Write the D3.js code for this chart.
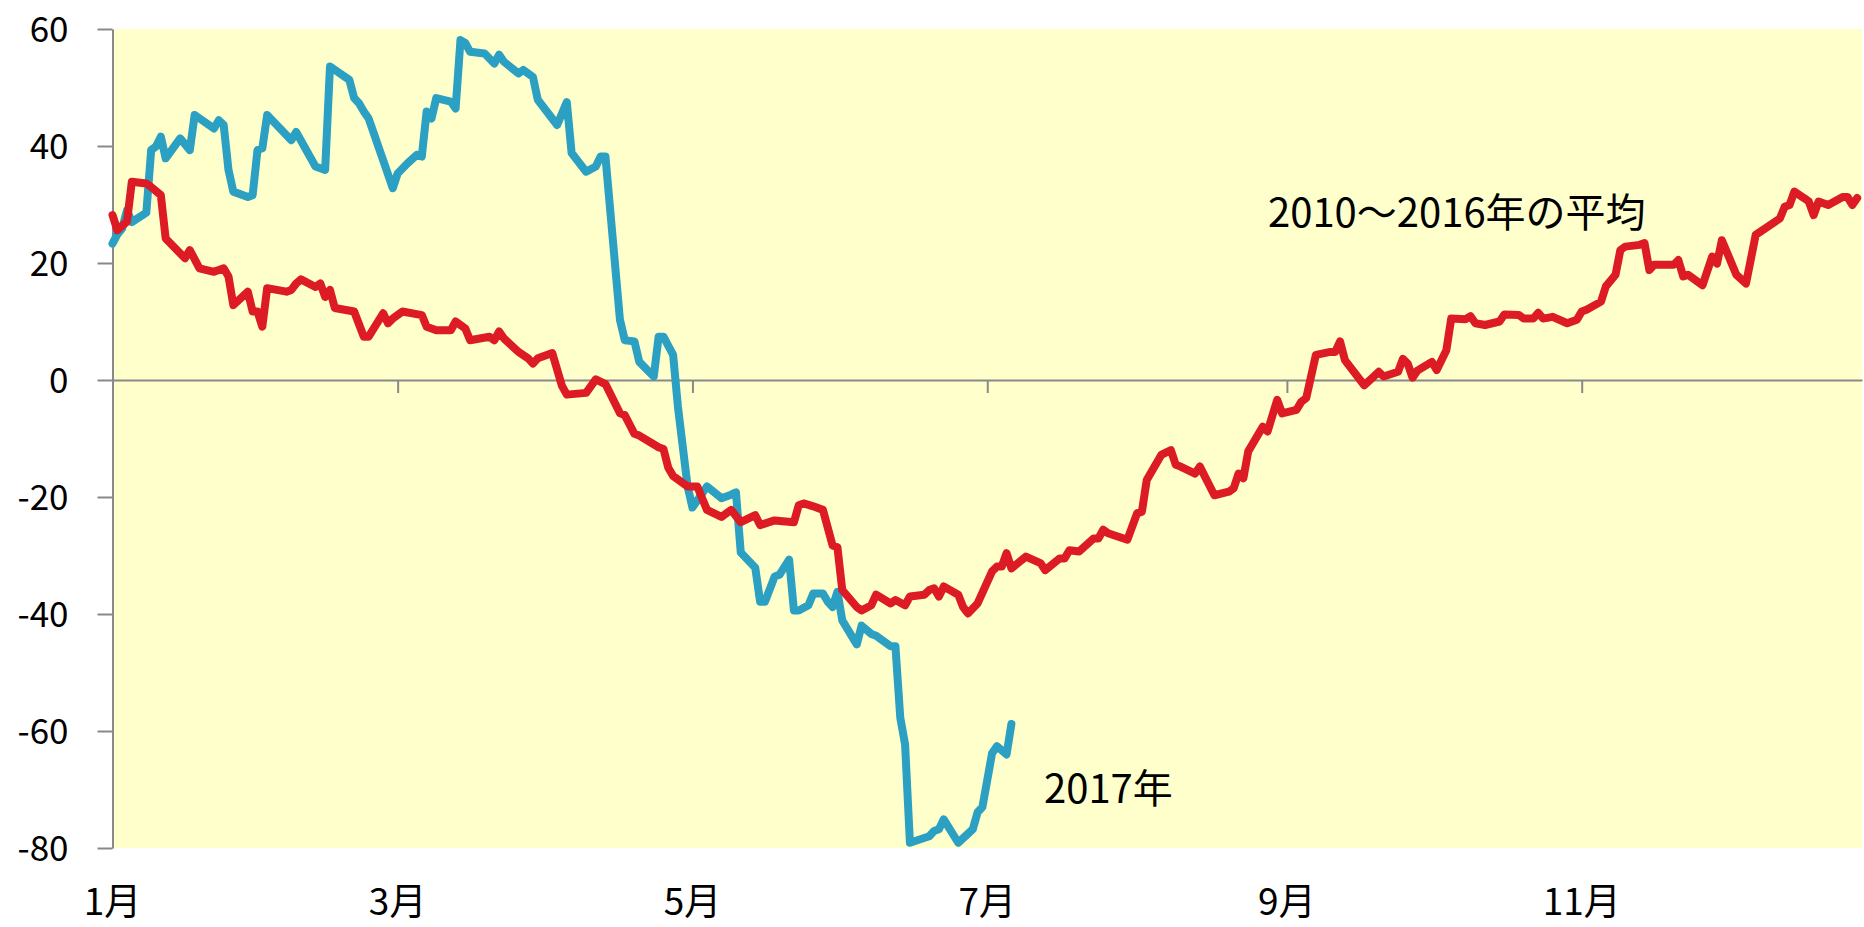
<!DOCTYPE html>
<html>
<head>
<meta charset="utf-8">
<script src="https://cdn.jsdelivr.net/npm/d3@7"></script>
<style>
  body { margin: 0; background: #fff; }
  text { font-family: "Noto Sans CJK JP", "Noto Sans", sans-serif; fill: #000; }
</style>
</head>
<body>
<svg id="chart" width="1864" height="927"></svg>
<script>
// 2010～2016年の平均 (red)
const avgDates = ["1/4","1/5","1/7","1/8","1/11","1/12","1/14","1/15","1/19","1/20","1/22","1/25","1/27","1/28","1/29",
  "2/1","2/2","2/3","2/4","2/5","2/9","2/10","2/11","2/12","2/15","2/16","2/17","2/18","2/19","2/23","2/25","2/26",
  "3/1","3/2","3/3","3/5","3/9","3/10","3/12","3/15","3/16","3/18","3/19","3/23","3/24","3/25","3/26","3/29","3/31",
  "4/1","4/2","4/5","4/7","4/8","4/12","4/14","4/16","4/19","4/20","4/22","4/23","4/27","4/28","4/29","4/30",
  "5/3","5/5","5/7","5/10","5/12","5/14","5/17","5/18","5/21","5/25","5/26","5/27","5/29","5/31",
  "6/2","6/3","6/4","6/7","6/8","6/10","6/11","6/14","6/15","6/17","6/18","6/21","6/22","6/23","6/24","6/25","6/28","6/29","6/30",
  "7/2","7/5","7/6","7/7","7/8","7/9","7/12","7/15","7/16","7/19","7/20","7/21","7/23","7/26","7/27","7/28","7/29",
  "8/2","8/4","8/5","8/6","8/9","8/11","8/12","8/13","8/16","8/17","8/20","8/23","8/24","8/25","8/26","8/27","8/30","8/31",
  "9/2","9/3","9/6","9/7","9/8","9/10","9/13","9/14","9/15","9/16","9/20","9/22","9/23","9/24","9/27","9/28","9/29","9/30",
  "10/1","10/4","10/5","10/7","10/8","10/11","10/12","10/13","10/15","10/18","10/19","10/22","10/23","10/25","10/26","10/27","10/29",
  "11/1","11/3","11/4","11/5","11/8","11/9","11/11","11/12","11/13","11/16","11/17","11/18","11/19","11/23","11/24","11/25","11/26","11/29",
  "12/1","12/2","12/3","12/6","12/8","12/10","12/15","12/16","12/17","12/18","12/20","12/21","12/22","12/23","12/25","12/28","12/29","12/30","12/31"];
const avgValues = [28.2,25.6,27.1,33.9,33.6,33.0,31.6,24.2,20.8,22.2,19.1,18.5,19.1,17.7,12.8,
  15.1,11.7,11.7,9.1,15.7,15.1,15.4,16.5,17.2,15.9,16.5,14.2,15.4,12.3,11.7,7.4,7.4,
  11.4,9.7,10.5,11.7,11.1,9.1,8.5,8.5,10.0,8.8,6.8,7.4,6.8,8.3,7.1,4.8,3.7,
  2.8,3.7,4.6,-1.0,-2.5,-2.2,0.1,-0.7,-5.7,-6.0,-9.2,-9.5,-11.5,-11.8,-15.0,-16.4,
  -18.2,-18.2,-22.2,-23.4,-22.2,-24.3,-23.1,-24.8,-24.0,-24.3,-21.4,-21.1,-21.6,-22.2,
  -28.3,-28.6,-35.9,-38.8,-39.4,-38.5,-36.7,-38.2,-37.6,-38.5,-37.0,-36.7,-35.9,-35.6,-37.0,-35.3,-36.7,-38.8,-39.9,
  -38.2,-32.7,-31.9,-31.9,-29.6,-32.2,-30.2,-31.3,-32.5,-30.5,-30.5,-29.1,-29.3,-27.1,-27.1,-25.6,-26.2,
  -27.3,-22.8,-22.5,-17.1,-12.8,-12.0,-14.5,-14.8,-16.0,-14.8,-19.7,-19.1,-18.5,-16.0,-16.8,-12.2,-8.0,-8.8,
  -3.4,-5.7,-5.1,-3.7,-3.1,4.3,4.8,4.8,6.6,3.4,-0.9,0.6,1.4,0.6,1.4,3.6,2.8,0.4,
  1.6,3.1,1.7,5.1,10.5,10.4,10.9,9.7,9.4,10.0,11.2,11.1,10.5,10.5,11.5,10.5,10.8,
  9.7,10.3,11.7,12.0,13.4,16.0,18.0,22.2,22.8,23.1,23.4,18.8,19.7,19.7,20.5,17.7,18.0,16.2,
  21.1,19.9,23.9,18.0,16.5,24.8,27.6,29.6,29.9,32.2,31.1,30.5,28.2,30.5,29.9,31.3,31.3,29.9,31.1];

// 2017年 (blue)
const y2017Dates = ["1/4","1/5","1/6","1/7","1/8","1/11","1/12","1/13","1/14","1/15","1/18","1/20","1/21","1/25","1/26","1/27","1/28","1/29",
  "2/1","2/2","2/3","2/4","2/5","2/10","2/11","2/15","2/17","2/18","2/22","2/23","2/24","2/25","2/26",
  "3/3","3/4","3/6","3/8","3/9","3/10","3/11","3/12","3/15","3/16","3/17","3/18","3/19","3/22","3/24","3/25","3/26","3/29","3/30",
  "4/1","4/2","4/6","4/8","4/9","4/12","4/14","4/15","4/16","4/19","4/20","4/22","4/23","4/26","4/27","4/28","4/30",
  "5/1","5/3","5/4","5/7","5/10","5/12","5/13","5/14","5/17","5/18","5/19","5/21","5/22","5/24","5/25","5/26","5/28","5/29","5/31",
  "6/1","6/2","6/3","6/4","6/7","6/8","6/10","6/11","6/14","6/15","6/16","6/17","6/18","6/22","6/23","6/24","6/25","6/28",
  "7/1","7/2","7/3","7/5","7/6","7/8","7/9"];
const y2017Values = [23.3,24.9,25.9,29.0,27.0,28.6,39.3,39.9,41.6,37.9,41.3,39.3,45.3,43.0,44.4,43.6,35.9,32.2,
  31.3,31.6,39.3,39.6,45.3,41.0,42.4,36.5,35.9,53.6,51.3,48.2,47.3,45.9,44.7,
  32.8,35.3,37.0,38.5,38.2,45.9,44.7,48.2,47.6,46.4,58.1,57.6,56.1,55.8,54.1,55.6,54.4,52.4,53.0,
  51.8,47.9,43.6,47.5,38.8,35.6,36.5,38.2,38.2,10.3,6.8,6.6,3.1,0.6,7.4,7.4,4.3,
  -4.6,-18.2,-21.8,-18.2,-20.2,-19.6,-19.2,-29.5,-32.1,-37.9,-37.9,-33.6,-33.3,-30.7,-39.4,-39.4,-38.5,-36.5,-36.5,
  -37.9,-38.8,-36.2,-41.1,-45.2,-42.0,-43.4,-43.7,-45.5,-45.5,-57.7,-62.3,-79.1,-78.0,-77.1,-76.8,-75.1,-79.1,
  -76.8,-73.9,-73.0,-63.8,-62.6,-64.0,-58.8];

const yTicks = [-80, -60, -40, -20, 0, 20, 40, 60];
const monthTicks = ["1/4", "3/4", "5/4", "7/4", "9/4", "11/4"];

const toDate = s => { const p = s.split("/"); return new Date(2017, +p[0] - 1, +p[1]); };

const svg = d3.select("#chart");
const plotLeft = 112.5, plotRight = 1862, plotTop = 29, plotBottom = 848;

const x = d3.scaleTime()
    .domain([new Date(2017, 0, 4), new Date(2018, 0, 1)])
    .range([plotLeft, plotRight]);
const y = d3.scaleLinear()
    .domain([-80, 60])
    .range([plotBottom, plotTop]);

//plot background
svg.append("rect")
    .attr("x", plotLeft).attr("y", plotTop)
    .attr("width", plotRight - plotLeft).attr("height", plotBottom - plotTop)
    .attr("fill", "#FFFFCC");

//y axis
const yAxis = svg.append("g")
    .attr("transform", `translate(${plotLeft},0)`)
    .call(d3.axisLeft(y).tickValues(yTicks).tickSize(15).tickSizeOuter(0).tickPadding(29)
        .tickFormat(d => String(d)));
yAxis.selectAll("path, line").attr("stroke", "#898989").attr("stroke-width", 2);
yAxis.selectAll("text").style("font-size", "35px").attr("dy", "0.36em");

//x axis on the zero line, labels at the bottom
const xAxis = svg.append("g")
    .attr("transform", `translate(0,${y(0)})`)
    .call(d3.axisBottom(x).tickValues(monthTicks.map(toDate)).tickSize(13).tickSizeOuter(0).tickFormat(""));
xAxis.selectAll("path, line").attr("stroke", "#898989").attr("stroke-width", 2);

svg.append("g").selectAll("text")
    .data(monthTicks)
    .join("text")
    .attr("x", d => x(toDate(d)))
    .attr("y", 915)
    .attr("text-anchor", "middle")
    .style("font-size", "37px")
    .text(d => d.split("/")[0] + "月");

//lines
const line = d3.line()
    .x(d => x(d.date))
    .y(d => y(d.value));

const series = [
    { dates: y2017Dates, values: y2017Values, color: "#2BA0C2" },
    { dates: avgDates, values: avgValues, color: "#DC1B24" }
];
for (let s of series) {
    let pts = s.dates.map((d, i) => ({ date: toDate(d), value: s.values[i] }));
    svg.append("path")
        .datum(pts)
        .attr("d", line)
        .attr("fill", "none")
        .attr("stroke", s.color)
        .attr("stroke-width", 8)
        .attr("stroke-linejoin", "round")
        .attr("stroke-linecap", "round");
}

//series labels
svg.append("text")
    .attr("x", 1268).attr("y", 227)
    .style("font-size", "40px")
    .text("2010～2016年の平均");
svg.append("text")
    .attr("x", 1044).attr("y", 803)
    .style("font-size", "40px")
    .text("2017年");
</script>
</body>
</html>
